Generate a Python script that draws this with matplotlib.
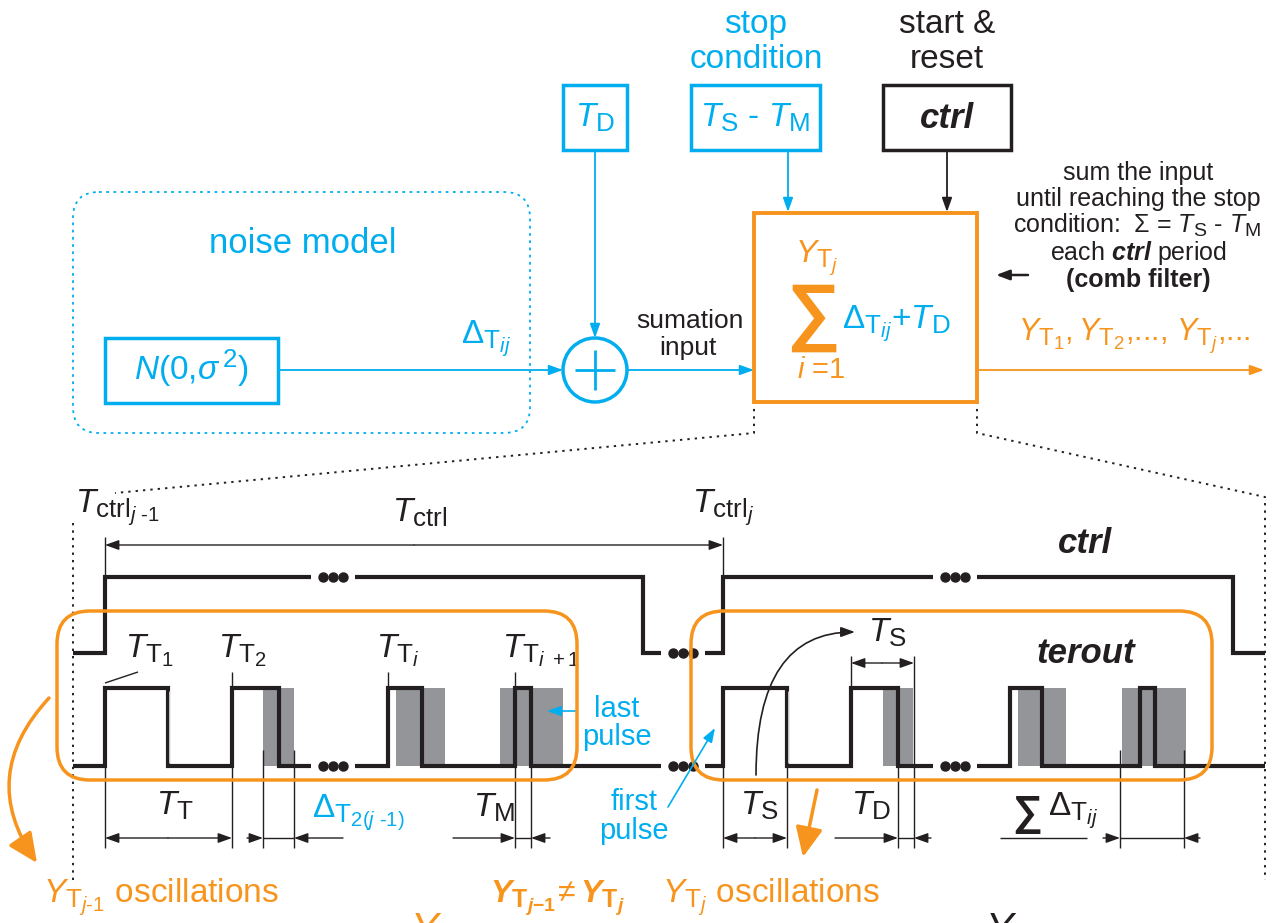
import matplotlib.pyplot as plt
import matplotlib._mathtext as mathtext_internals
from matplotlib.patches import Rectangle, FancyBboxPatch, Circle, FancyArrowPatch

plt.rcParams['font.family'] = 'Liberation Sans'
plt.rcParams['mathtext.fontset'] = 'custom'
plt.rcParams['mathtext.rm'] = 'Liberation Sans'
plt.rcParams['mathtext.it'] = 'Liberation Sans:italic'
plt.rcParams['mathtext.bf'] = 'Liberation Sans:bold'
plt.rcParams['mathtext.bfit'] = 'Liberation Sans:bold:italic'
# larger sub-/subsubscripts, closer to the usual drawing-program look
mathtext_internals.SHRINK_FACTOR = 0.78

CYAN = '#00aeef'
ORANGE = '#f7941d'
BLACK = '#231f20'
GREY = '#939598'

# ctrl periods j-1 and j as (rise, fall) times
ctrl_periods = [(105, 643), (723, 1233)]
# terout pulses in period j-1 and period j, (rise, fall)
pulses_prev = [(105, 168), (232, 279), (388, 422), (515, 531)]
pulses_curr = [(723, 787), (851, 898), (1010, 1042), (1140, 1155)]
# jitter windows (grey) around the falling edges
jitter_prev = [(263, 294), (396, 445), (500, 563)]
jitter_curr = [(883, 913), (1018, 1066), (1122, 1186)]
# times where the traces are broken with "..."
breaks = [333, 683, 955]
t_start, t_end = 73, 1265

CTRL_LO, CTRL_HI = 653, 577
TER_LO, TER_HI = 766, 688

fig = plt.figure(figsize=(12.74, 9.23), dpi=100)
ax = fig.add_axes([0, 0, 1, 1])
ax.set_xlim(0, 1274)
ax.set_ylim(923, 0)
ax.axis('off')


def txt(x, y, s, color=BLACK, size=24, ha='left', **kw):
    ax.text(x, y, s, color=color, fontsize=size, ha=ha, va='baseline', **kw)


def arrow(x0, y0, x1, y1, color=BLACK, lw=1.0, hl=0.7, hw=0.25, ms=12, z=3):
    ax.annotate('', xy=(x1, y1), xytext=(x0, y0),
                arrowprops=dict(arrowstyle=f'-|>,head_length={hl},head_width={hw}',
                                color=color, lw=lw, shrinkA=0, shrinkB=0,
                                mutation_scale=ms), zorder=z)


def line(xs, ys, color=BLACK, lw=1.0, **kw):
    ax.plot(xs, ys, color=color, lw=lw, solid_capstyle='butt', **kw)


def box(x0, y0, x1, y1, color, lw=2.5):
    ax.add_patch(Rectangle((x0, y0), x1 - x0, y1 - y0, fill=False,
                           ec=color, lw=lw, joinstyle='miter', zorder=3))


def level(pulses, t, lo, hi):
    for r, f in pulses:
        if r <= t <= f:
            return hi
    return lo


def wave(pulses, lo, hi):
    xs, ys = [t_start], [lo]
    for r, f in pulses:
        xs += [r, r, f, f]
        ys += [lo, hi, hi, lo]
    xs.append(t_end)
    ys.append(lo)
    ax.plot(xs, ys, color=BLACK, lw=3.0, solid_joinstyle='miter',
            solid_capstyle='butt', zorder=3)
    for c in breaks:
        y = level(pulses, c, lo, hi)
        ax.add_patch(Rectangle((c - 22, y - 6), 44, 12, fc='white', ec='none', zorder=4))
        ax.plot([c - 10, c, c + 10], [y] * 3, 'o', ms=6.5, color=BLACK, zorder=5)


# ---------------- block diagram ----------------
ax.add_patch(FancyBboxPatch((73, 192), 457, 241,
                            boxstyle='round,pad=0,rounding_size=26',
                            fill=False, ec=CYAN, lw=1.3, ls=(0, (1.5, 2.5))))
txt(303, 253, 'noise model', CYAN, 25, 'center')
box(105, 338, 278, 403, CYAN)
txt(191, 380, r'$N$(0,$\sigma^{\,2}$)', CYAN, 24, 'center')
arrow(278, 370, 563, 370, CYAN, 1.3)
txt(461, 343, r'$\Delta_{\mathrm{T}_{ij}}$', CYAN, 24)

box(563, 85, 627, 150, CYAN)
txt(595, 127, r'$T_\mathrm{D}$', CYAN, 24, 'center')
arrow(595, 150, 595, 338, CYAN, 1.3)
ax.add_patch(Circle((595, 370), 32, fill=False, ec=CYAN, lw=2.5, zorder=3))
line([575, 615], [370, 370], CYAN, 2.0)
line([595, 595], [350, 390], CYAN, 2.0)

txt(756, 33, 'stop', CYAN, 24, 'center')
txt(756, 68, 'condition', CYAN, 24, 'center')
box(691, 85, 820, 150, CYAN)
txt(755, 127, r'$T_\mathrm{S}$ - $T_\mathrm{M}$', CYAN, 24, 'center')
arrow(788, 150, 788, 212, CYAN, 1.3)

txt(947, 33, 'start &', BLACK, 24, 'center')
txt(947, 68, 'reset', BLACK, 24, 'center')
box(883, 85, 1011, 150, BLACK)
txt(947, 128, 'ctrl', BLACK, 25, 'center', weight='bold', style='italic')
arrow(947, 150, 947, 212, BLACK, 1.3)

txt(690, 328, 'sumation', BLACK, 19, 'center')
txt(688, 355, 'input', BLACK, 19, 'center')
arrow(627, 370, 754, 370, CYAN, 1.3)

box(754, 213, 977, 402, ORANGE, 2.8)
txt(795, 262, r'$Y_{\mathrm{T}_j}$', ORANGE, 23)
ax.text(813, 317, '\u2211', color=ORANGE, fontsize=54, weight='bold',
        ha='center', va='center')
txt(797, 378, r'$i$ =1', ORANGE, 21)
txt(842, 328, r'$\Delta_{\mathrm{T}_{ij}}$+$T_\mathrm{D}$', CYAN, 24)
arrow(977, 370, 1264, 370, ORANGE, 1.3)
txt(1018, 340, r'$Y_{\mathrm{T}_1}, Y_{\mathrm{T}_2}$,..., $Y_{\mathrm{T}_j}$,...', ORANGE, 22)

txt(1138, 180, 'sum the input', BLACK, 18, 'center')
txt(1138, 206, 'until reaching the stop', BLACK, 18, 'center')
txt(1013, 233, r'condition:  $\Sigma$ = $T_\mathrm{S}$ - $T_\mathrm{M}$', BLACK, 18)
txt(1138, 260, r'each $\mathbfit{ctrl}$ period', BLACK, 18, 'center')
txt(1138, 287, '(comb filter)', BLACK, 18, 'center', weight='bold')
arrow(1028, 275, 996, 275, BLACK, 1.8, hl=0.8, hw=0.3, ms=10)

# zoom lines from the summation block to the timing diagram
dots = dict(color=BLACK, lw=1.4, ls=(0, (1.2, 2.6)))
ax.plot([754, 754, 115], [372, 433, 493], **dots)
ax.plot([977, 977, 1265, 1265], [372, 433, 497, 880], **dots)
ax.plot([73, 73], [523, 880], **dots)

# ---------------- timing diagram ----------------
for a, b in jitter_prev + jitter_curr:
    ax.add_patch(Rectangle((a, TER_HI), b - a, TER_LO - TER_HI, fc=GREY, ec='none', zorder=1))
wave(ctrl_periods, CTRL_LO, CTRL_HI)
wave(pulses_prev + pulses_curr, TER_LO, TER_HI)
for f in (pulses_prev[0][1], pulses_curr[0][1]):
    line([f + 1, f + 1], [TER_HI + 3, TER_LO - 3], '#c8c8c8', 0.7, zorder=4)

ax.add_patch(FancyBboxPatch((57, 611), 520, 169, boxstyle='round,pad=0,rounding_size=33',
                            fill=False, ec=ORANGE, lw=2.5, zorder=6))
ax.add_patch(FancyBboxPatch((691, 611), 521, 169, boxstyle='round,pad=0,rounding_size=33',
                            fill=False, ec=ORANGE, lw=2.5, zorder=6))

txt(75, 512, r'$T_{\mathrm{ctrl}_{j\ \text{-1}}}$', BLACK, 24)
txt(420, 522, r'$T_\mathrm{ctrl}$', BLACK, 24, 'center')
txt(692, 512, r'$T_{\mathrm{ctrl}_j}$', BLACK, 24)
line([105, 105], [537, CTRL_HI])
line([723, 723], [537, CTRL_HI])
arrow(414, 545, 105, 545)
arrow(414, 545, 723, 545)
txt(1085, 553, 'ctrl', BLACK, 25, 'center', weight='bold', style='italic')
txt(1086, 663, 'terout', BLACK, 25, 'center', weight='bold', style='italic')

# pulse labels
txt(125, 657, r'$T_{\mathrm{T}_1}$', BLACK, 24)
line([105, 138], [683, 672])
txt(218, 657, r'$T_{\mathrm{T}_2}$', BLACK, 24)
line([232, 232], [672, TER_HI])
txt(376, 657, r'$T_{\mathrm{T}_i}$', BLACK, 24)
line([388, 388], [672, TER_HI])
txt(502, 657, r'$T_{\mathrm{T}_{i\ +1}}$', BLACK, 24)
line([515, 515], [672, 848])

# dimensions
Y = 838
for x in (105, 232, 531, 723, 787, 898):
    line([x, x], [TER_LO, 848])
for x in (263, 294, 1120, 1184):
    line([x, x], [750, 848])
line([914, 914], [656, 848])
line([851, 851], [656, TER_HI])
arrow(168, Y, 105, Y); arrow(168, Y, 232, Y)
arrow(247, Y, 263, Y); arrow(343, Y, 294, Y); line([263, 294], [Y, Y])
arrow(453, Y, 515, Y); arrow(550, Y, 531, Y); line([515, 531], [Y, Y])
arrow(755, Y, 723, Y); arrow(755, Y, 787, Y)
arrow(835, Y, 898, Y); arrow(931, Y, 914, Y); line([898, 914], [Y, Y])
arrow(1103, Y, 1120, Y); arrow(1200, Y, 1184, Y); line([1120, 1184], [Y, Y])
line([1000, 1087], [Y, Y])
arrow(882, 663, 851, 663); arrow(882, 663, 914, 663)

txt(156, 815, r'$T_\mathrm{T}$', BLACK, 24)
txt(312, 817, r'$\Delta_{\mathrm{T}_{2(j\ \text{-1})}}$', CYAN, 24)
txt(473, 817, r'$T_\mathrm{M}$', BLACK, 24)
txt(740, 815, r'$T_\mathrm{S}$', BLACK, 24)
txt(851, 815, r'$T_\mathrm{D}$', BLACK, 24)
txt(868, 642, r'$T_\mathrm{S}$', BLACK, 24)
ax.text(1027, 825, '\u2211', color=BLACK, fontsize=30, weight='bold', ha='center', va='baseline')
txt(1048, 815, r'$\Delta_{\mathrm{T}_{ij}}$', BLACK, 24)

txt(617, 717, 'last', CYAN, 21, 'center')
txt(617, 745, 'pulse', CYAN, 21, 'center')
arrow(577, 711, 547, 711, CYAN, 1.2)
txt(634, 810, 'first', CYAN, 21, 'center')
txt(634, 839, 'pulse', CYAN, 21, 'center')
arrow(668, 807, 715, 728, CYAN, 1.2, z=7)

# T_S curved pointer
ax.add_patch(FancyArrowPatch((756, 775), (855, 632), connectionstyle='angle3,angleA=90,angleB=0',
                             arrowstyle='-|>,head_length=0.7,head_width=0.25', mutation_scale=12,
                             color=BLACK, lw=1.2, shrinkA=0, shrinkB=0, zorder=7))

# oscillation pointers
ax.add_patch(FancyArrowPatch((49, 698), (37, 863), connectionstyle='arc3,rad=0.4',
                             arrowstyle='-|>,head_length=1.2,head_width=0.55', mutation_scale=15,
                             color=ORANGE, lw=2.5, shrinkA=0, shrinkB=0, zorder=7))
arrow(817, 790, 803, 857, ORANGE, 2.5, hl=1.2, hw=0.55, ms=15, z=7)

txt(43, 902, r'$Y_{\mathrm{T}_{j\text{-1}}}$ oscillations', ORANGE, 24)
txt(490, 902, r'$\mathbfit{Y}_{\mathbf{T}_{\mathbfit{j}\mathbf{-1}}}\!\neq\mathbfit{Y}_{\mathbf{T}_{\mathbfit{j}}}$', ORANGE, 23)
txt(662, 902, r'$Y_{\mathrm{T}_j}$ oscillations', ORANGE, 24)
txt(410, 942, r'$Y$', ORANGE, 30)
txt(985, 942, r'$Y$', BLACK, 30)

fig.savefig('out.png', dpi=100)
